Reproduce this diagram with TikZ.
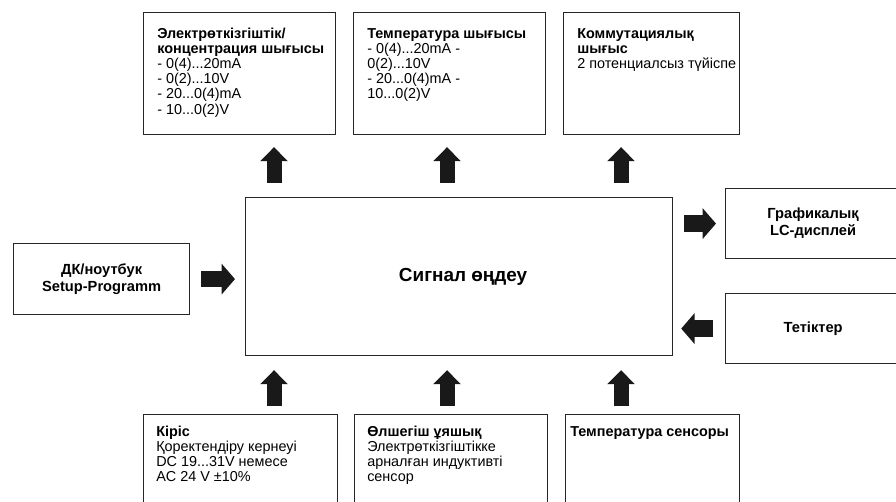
\documentclass[tikz,border=0pt]{standalone}
\usepackage{fontspec}
\setmainfont{Liberation Sans}
\usetikzlibrary{arrows.meta}

\begin{document}
\begin{tikzpicture}[
		x=0.75pt, y=-0.75pt,
		box/.style={draw=black!85, line width=0.9pt, anchor=north west, inner sep=0pt},
		txt/.style={anchor=north west, align=left, inner sep=0pt, font=\fontsize{10.8}{11.3}\selectfont},
		ctxt/.style={align=center, font=\bfseries\fontsize{11}{12.75}\selectfont},
		blk/.style={-{Triangle[width=20.25pt,length=10.5pt]}, line width=11.25pt, draw=black!90},
		hblk/.style={blk, -{Triangle[width=22.5pt,length=10pt]}, line width=12.5pt}
	]
	\useasboundingbox (0,0) rectangle (896,502);
	\clip (0,0) rectangle (896,502);

	% columns of the vertical arrows
	\coordinate (c1) at (274,0);
	\coordinate (c2) at (447,0);
	\coordinate (c3) at (621,0);

	% processing unit
	\node[box, minimum width=320.25pt, minimum height=118.5pt,
		font=\bfseries\fontsize{14.2}{16}\selectfont] (main) at (245,197) {\hspace*{6pt}Сигнал өңдеу};

	% outputs
	\node[box, minimum width=144pt, minimum height=91.5pt] (cond) at (143,12) {};
	\node[txt] (cond-t) at ([shift={(14,16)}]cond.north west)
		{\textbf{Электрөткізгіштік/}\\\textbf{концентрация шығысы}\\- 0(4)...20mA\\- 0(2)...10V\\- 20...0(4)mA\\- 10...0(2)V};
	\node[box, minimum width=144pt, minimum height=91.5pt] (tout) at (353,12) {};
	\node[txt] (tout-t) at ([shift={(14,16)}]tout.north west)
		{\textbf{Температура шығысы}\\- 0(4)...20mA -\\0(2)...10V\\- 20...0(4)mA -\\10...0(2)V};
	\node[box, minimum width=132pt, minimum height=91.5pt] (relay) at (563,12) {};
	\node[txt] (relay-t) at ([shift={(14,16)}]relay.north west)
		{\textbf{Коммутациялық}\\\textbf{шығыс}\\2 потенциалсыз түйіспе};

	% side units
	\node[box, ctxt, minimum width=132pt, minimum height=53.25pt] (pc) at (13,243) {ДК/ноутбук\\Setup-Programm};
	\node[box, ctxt, minimum width=131.25pt, minimum height=52.5pt] (disp) at (725,188) {Графикалық\\LC-дисплей};
	\node[box, ctxt, minimum width=131.25pt, minimum height=52.5pt] (keys) at (725,293) {Тетіктер};

	% inputs
	\node[box, minimum width=145.5pt, minimum height=72pt] (supply) at (143,414) {};
	\node[txt] (supply-t) at ([shift={(13,12)}]supply.north west)
		{\textbf{Кіріс}\\Қоректендіру кернеуі\\DC 19...31V немесе\\AC 24 V ±10\%};
	\node[box, minimum width=144.75pt, minimum height=72pt] (cell) at (354,414) {};
	\node[txt] (cell-t) at ([shift={(13,12)}]cell.north west)
		{\textbf{Өлшегіш ұяшық}\\Электрөткізгіштікке\\арналған индуктивті\\сенсор};
	\node[box, minimum width=130.5pt, minimum height=72pt] (tsens) at (565,414) {};
	\node[txt] (tsens-t) at ([shift={(5,12)}]tsens.north west) {\textbf{Температура сенсоры}};

	% arrows
	\draw[blk, shorten <=10.5pt, shorten >=9pt] (main.north -| c1) -- (c1 |- cond.south);
	\draw[blk, shorten <=10.5pt, shorten >=9pt] (main.north -| c2) -- (c2 |- tout.south);
	\draw[blk, shorten <=10.5pt, shorten >=9pt] (main.north -| c3) -- (c3 |- relay.south);
	\draw[blk, shorten <=6pt, shorten >=10.5pt] (c1 |- supply.north) -- (main.south -| c1);
	\draw[blk, shorten <=6pt, shorten >=10.5pt] (c2 |- cell.north) -- (main.south -| c2);
	\draw[blk, shorten <=6pt, shorten >=10.5pt] (c3 |- tsens.north) -- (main.south -| c3);
	\draw[hblk, shorten <=8.25pt, shorten >=7.5pt] (pc.east) -- (main.west |- pc.east);
	\draw[hblk, shorten <=8.25pt, shorten >=6.75pt] (main.east |- disp.west) -- (disp.west);
	\draw[hblk, shorten <=9pt, shorten >=6pt] (keys.west) -- (main.east |- keys.west);
\end{tikzpicture}
\end{document}
